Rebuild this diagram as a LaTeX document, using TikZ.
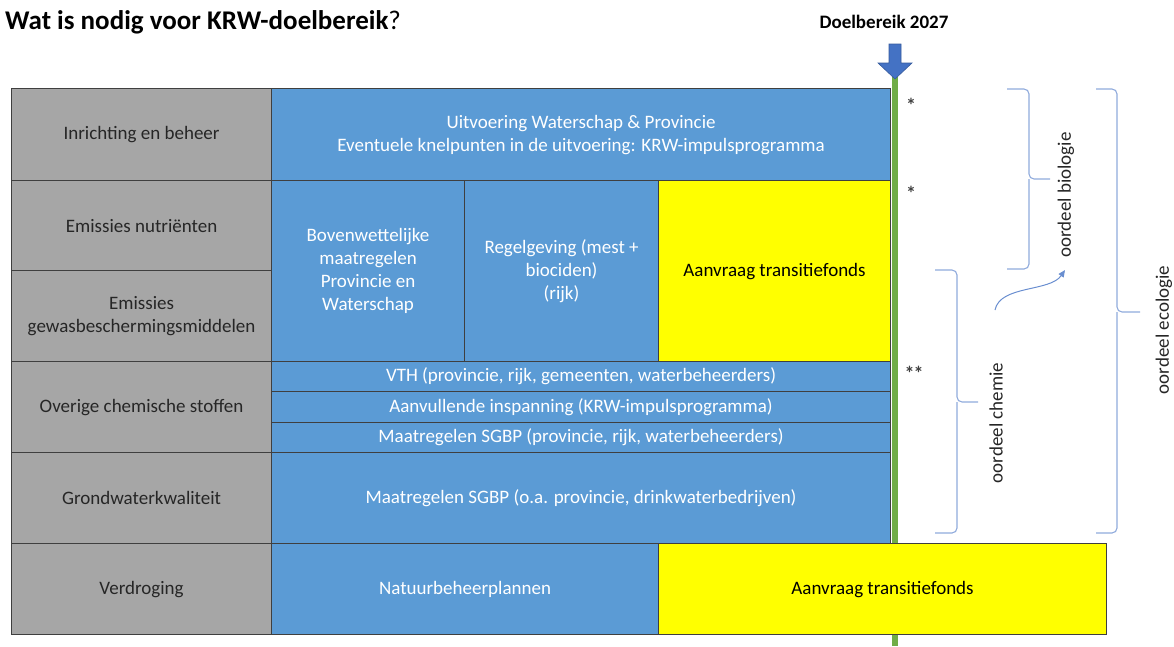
\documentclass[tikz,border=0pt]{standalone}
\usepackage{fontspec}
\setmainfont{Carlito}
\usetikzlibrary{arrows.meta}
\definecolor{bluec}{HTML}{5B9BD5}
\definecolor{grayc}{HTML}{A6A6A6}
\definecolor{linec}{HTML}{3F3F3F}
\definecolor{greenc}{HTML}{70AD47}
\definecolor{arrowc}{HTML}{4472C4}
\definecolor{bracec}{HTML}{8FAADC}
\definecolor{yelc}{HTML}{FFFF00}
\begin{document}
\begin{tikzpicture}[x=1pt,y=-1pt,
  cell/.style={draw=linec, line width=1.1pt, anchor=north west, inner sep=2pt, align=center, font=\fontsize{19}{23}\selectfont},
  graycell/.style={cell, fill=grayc, text=black!85},
  bluecell/.style={cell, fill=bluec, text=white},
  yelcell/.style={cell, fill=yelc, text=black},
  bracestyle/.style={draw=bracec, line width=1.1pt, rounded corners=5pt},
  sidetext/.style={rotate=90, font=\fontsize{19}{22}\selectfont, text=black!85},
  star/.style={font=\bfseries\fontsize{20}{22}\selectfont, text=black!75}
]
\useasboundingbox (0,0) rectangle (1174,646);

% title
\node[anchor=west, font=\fontsize{27}{31}\selectfont, inner sep=0pt] (title) at (5,22) {\textbf{Wat is nodig voor KRW-doelbereik}?};
\node[font=\bfseries\fontsize{19}{22}\selectfont, inner sep=0pt] (doel) at (884,22) {Doelbereik 2027};

% green line
\coordinate (gtop) at (895,76);
\coordinate (gbot) at (895,646);
\draw[greenc, line width=6.5pt] (gtop) -- (gbot);

% arrow
\path[fill=arrowc, draw=arrowc!80!black, line width=0.6pt] (889,44) -- (901,44) -- (901,63) -- (912,63) -- (895,79) -- (878,63) -- (889,63) -- cycle;

% gray column
\node[graycell, minimum width=260pt, minimum height=92pt] (g1) at (11,88) {Inrichting en beheer};
\node[graycell, minimum width=260pt, minimum height=90pt] (g2) at (11,180) {Emissies nutriënten};
\node[graycell, minimum width=260pt, minimum height=91pt] (g3) at (11,270) {Emissies\\gewasbeschermingsmiddelen};
\node[graycell, minimum width=260pt, minimum height=91pt] (g4) at (11,361) {Overige chemische stoffen};
\node[graycell, minimum width=260pt, minimum height=91pt] (g5) at (11,452) {Grondwaterkwaliteit};
\node[graycell, minimum width=260pt, minimum height=91pt] (g6) at (11,543) {Verdroging};

% blue area
\node[bluecell, minimum width=619pt, minimum height=92pt] (b1) at (271,88) {Uitvoering Waterschap \& Provincie\\Eventuele knelpunten in de uitvoering: KRW-impulsprogramma};
\node[bluecell, minimum width=193pt, minimum height=181pt] (b2) at (271,180) {Bovenwettelijke\\maatregelen\\Provincie en\\Waterschap};
\node[bluecell, minimum width=194pt, minimum height=181pt] (b3) at (464,180) {Regelgeving (mest +\\biociden)\\(rijk)};
\node[yelcell, minimum width=232pt, minimum height=181pt] (y1) at (658,180) {Aanvraag transitiefonds};
\node[bluecell, minimum width=619pt, minimum height=30pt] (b4) at (271,361) {VTH (provincie, rijk, gemeenten, waterbeheerders)};
\node[bluecell, minimum width=619pt, minimum height=31pt] (b5) at (271,391) {Aanvullende inspanning (KRW-impulsprogramma)};
\node[bluecell, minimum width=619pt, minimum height=30pt] (b6) at (271,422) {Maatregelen SGBP (provincie, rijk, waterbeheerders)};
\node[bluecell, minimum width=619pt, minimum height=91pt] (b7) at (271,452) {Maatregelen SGBP (o.a. provincie, drinkwaterbedrijven)};
\node[bluecell, minimum width=387pt, minimum height=91pt] (b8) at (271,543) {Natuurbeheerplannen};
\node[yelcell, minimum width=448pt, minimum height=91pt] (y2) at (658,543) {Aanvraag transitiefonds};

% asterisks
\node[star] (s1) at (911,105) {*};
\node[star] (s2) at (911,193) {*};
\node[star] (s3) at (914,373) {*\kern-1pt*};

% braces
\draw[bracestyle] (1007,89) -| (1029,179) -- (1050,179);
\draw[bracestyle] (1029,179) |- (1007,269);
\draw[bracestyle] (935,270) -| (957,402) -- (978,402);
\draw[bracestyle] (957,402) |- (935,533);
\draw[bracestyle] (1096,89) -| (1117,312) -- (1140,312);
\draw[bracestyle] (1117,312) |- (1096,533);

\node[sidetext] (tbio) at (1066,195) {oordeel biologie};
\node[sidetext] (tchem) at (996,423) {oordeel chemie};
\node[sidetext] (teco) at (1164,330) {oordeel ecologie};

% curved arrow
\coordinate (ca) at (995,310);
\coordinate (cb) at (1065,270);
\draw[draw=arrowc!80, line width=1pt, -{Triangle[length=7pt,width=6pt]}] (ca) .. controls (1000,285) and (1050,292) .. (cb);
\end{tikzpicture}
\end{document}
